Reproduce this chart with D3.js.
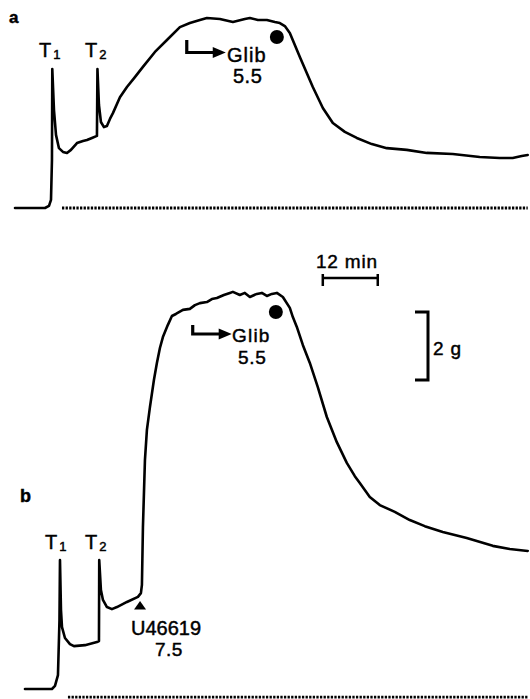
<!DOCTYPE html>
<html>
<head>
<meta charset="utf-8">
<script src="https://cdn.jsdelivr.net/npm/d3@7"></script>
<style>
  html, body { margin: 0; padding: 0; background: #fff; }
  svg { display: block; }
  text { font-family: "Liberation Sans", Arial, sans-serif; fill: #000; stroke: #000; stroke-width: 0.45px; }
</style>
</head>
<body>
<div id="chart"></div>
<script>
// time in minutes, tension in grams above resting baseline
const timeA = [0, 6.55, 7.42, 7.86, 8.07, 8.14, 8.51, 8.95, 9.60, 10.47, 11.35, 12.22, 13.53, 14.84, 15.71, 16.80, 17.89, 18.00, 18.33, 18.76, 19.42, 20.07, 20.73, 21.38, 22.91, 24.44, 26.18, 27.93, 30.55, 33.17, 36.00, 38.18, 40.37, 41.89, 44.73, 47.57, 50.18, 51.28, 53.02, 54.99, 56.73, 57.82, 58.91, 60.00, 62.19, 65.02, 67.21, 69.39, 72.01, 74.62, 77.90, 81.17, 85.53, 89.90, 95.57, 101.46, 105.83, 108.66, 110.63, 111.94];
const tensionA = [0, 0, 0.06, 0.24, 1.41, 4.09, 2.88, 2.15, 1.76, 1.65, 1.62, 1.71, 1.91, 1.97, 2.00, 2.06, 2.12, 4.09, 3.03, 2.53, 2.38, 2.41, 2.62, 2.79, 3.26, 3.56, 3.85, 4.15, 4.59, 4.94, 5.32, 5.44, 5.53, 5.59, 5.56, 5.47, 5.56, 5.59, 5.53, 5.53, 5.47, 5.44, 5.35, 5.15, 4.44, 3.56, 2.94, 2.50, 2.24, 2.06, 1.88, 1.76, 1.71, 1.62, 1.59, 1.50, 1.47, 1.47, 1.53, 1.56];

const timeB = [2.18, 8.07, 8.73, 9.38, 9.71, 9.82, 10.04, 10.26, 10.91, 12.00, 12.87, 15.27, 17.89, 18.33, 18.39, 18.76, 19.20, 20.07, 21.16, 22.26, 24.44, 26.84, 27.49, 27.71, 27.93, 28.37, 28.80, 29.46, 30.33, 30.98, 31.64, 32.29, 33.38, 34.26, 35.13, 36.66, 38.18, 39.28, 40.37, 41.89, 42.98, 44.08, 45.60, 46.91, 47.57, 49.09, 50.18, 51.28, 52.80, 53.89, 54.99, 56.08, 57.17, 58.48, 60.00, 60.66, 61.53, 62.84, 64.37, 66.11, 68.08, 70.26, 72.44, 74.19, 75.28, 77.46, 79.64, 82.91, 86.19, 89.46, 93.39, 98.62, 104.30, 108.01, 111.94];
const tensionB = [0, 0, 0.09, 0.41, 2.03, 3.79, 2.32, 1.82, 1.50, 1.32, 1.26, 1.29, 1.38, 1.41, 3.79, 2.91, 2.62, 2.41, 2.35, 2.41, 2.56, 2.71, 2.82, 3.06, 4.76, 6.74, 7.62, 8.29, 9.09, 9.59, 10.03, 10.35, 10.71, 10.97, 11.03, 11.15, 11.18, 11.29, 11.35, 11.38, 11.47, 11.50, 11.59, 11.65, 11.68, 11.59, 11.65, 11.53, 11.62, 11.65, 11.56, 11.62, 11.65, 11.53, 11.21, 10.94, 10.65, 10.12, 9.59, 8.88, 8.00, 7.26, 6.65, 6.26, 6.06, 5.65, 5.41, 5.21, 4.97, 4.79, 4.62, 4.44, 4.21, 4.12, 4.06];

// dotted reference lines [start, end] in minutes, level in g
const dottedA = [10.26, 111.94];
const dottedB = [11.56, 111.94];
const dottedLevelA = 0;
const dottedLevelB = -0.24;

// closing-point markers (min, g)
const markA = [57.17, 5.03];
const markB = [56.95, 11.09];

// events (min)
const glibTimeA = 37.5;
const glibTimeB = 38.8;
const uTime = 27.3;

// scale bars
const barTime = [67.2, 79.2];   // 12 min
const barTension = [9.09, 11.09]; // 2 g (panel b)

const W = 530, H = 699;
const svg = d3.select("#chart").append("svg")
    .attr("width", W)
    .attr("height", H);

const x = d3.scaleLinear().domain([0, 112]).range([15, 528]);
const yA = d3.scaleLinear().domain([0, 6]).range([208, 4]);
const yB = d3.scaleLinear().domain([0, 12]).range([689, 281]);

function drawPanel(times, vals, y, dotted, dottedLevel, mark) {
    const data = times.map((t, i) => ({ t, v: vals[i] }));
    const line = d3.line().x(d => x(d.t)).y(d => y(d.v));
    svg.append("path")
        .datum(data)
        .attr("d", line)
        .attr("fill", "none")
        .attr("stroke", "#000")
        .attr("stroke-width", 2.6)
        .attr("stroke-linejoin", "round")
        .attr("stroke-linecap", "round");

    svg.append("line")
        .attr("x1", x(dotted[0])).attr("x2", x(dotted[1]))
        .attr("y1", y(dottedLevel)).attr("y2", y(dottedLevel))
        .attr("stroke", "#000")
        .attr("stroke-width", 2.8)
        .attr("stroke-dasharray", "2.3,1.3");

    svg.append("circle")
        .attr("cx", x(mark[0]))
        .attr("cy", y(mark[1]))
        .attr("r", 7)
        .attr("fill", "#000");
}

drawPanel(timeA, tensionA, yA, dottedA, dottedLevelA, markA);
drawPanel(timeB, tensionB, yB, dottedB, dottedLevelB, markB);

// Glib arrows
function glibArrow(t, top, bottom) {
    const x0 = x(t);
    svg.append("path")
        .attr("d", `M${x0},${top}V${bottom}H${x0 + 28}`)
        .attr("fill", "none")
        .attr("stroke", "#000")
        .attr("stroke-width", 3.2);
    svg.append("path")
        .attr("d", `M${x0 + 26},${bottom - 5.5}L${x0 + 39},${bottom}L${x0 + 26},${bottom + 5.5}Z`)
        .attr("fill", "#000");
}
glibArrow(glibTimeA, 40, 52.5);
glibArrow(glibTimeB, 325, 334);

function label(txt, lx, ly, size, opts = {}) {
    const t = svg.append("text")
        .attr("x", lx).attr("y", ly)
        .style("font-size", size + "px")
        .text(txt);
    if (opts.bold) t.style("font-weight", "bold");
    if (opts.spacing) t.style("letter-spacing", opts.spacing + "px");
    if (opts.anchor) t.attr("text-anchor", opts.anchor);
    return t;
}

// panel letters
label("a", 9, 23, 17, { bold: true });
label("b", 20, 502, 18, { bold: true });

// T1 / T2
function tLabel(sub, lx, ly) {
    const t = svg.append("text").attr("x", lx).attr("y", ly).style("font-size", "20px");
    t.append("tspan").text("T");
    t.append("tspan").attr("dx", 2).attr("dy", 2).style("font-size", "13px").text(sub);
}
tLabel("1", 39, 57);
tLabel("2", 85, 57);
tLabel("1", 45, 549);
tLabel("2", 85, 549);

// Glib text
label("Glib", 227, 62, 20, { spacing: 1 });
label("5.5", 233, 83, 20, { spacing: 0.5 });
label("Glib", 232, 342, 19, { spacing: 1.2 });
label("5.5", 238, 364, 19, { spacing: 0.7 });

// U46619 marker
const ux = x(uTime);
svg.append("path")
    .attr("d", `M${ux - 6},609.5L${ux},601L${ux + 6},609.5Z`)
    .attr("fill", "#000");
label("U46619", 131, 635, 20);
label("7.5", 155, 656, 19, { spacing: 0.5 });

// 12 min scale bar
const bx0 = x(barTime[0]), bx1 = x(barTime[1]);
svg.append("path")
    .attr("d", `M${bx0},278H${bx1}M${bx0},274V286M${bx1},274V286`)
    .attr("fill", "none")
    .attr("stroke", "#000")
    .attr("stroke-width", 2.5);
label("12 min", 316, 268, 19, { spacing: 0.8 });

// 2 g scale bar (in panel b units)
const gy0 = yB(barTension[1]), gy1 = yB(barTension[0]);
svg.append("path")
    .attr("d", `M415,${gy0}H428V${gy1}H415`)
    .attr("fill", "none")
    .attr("stroke", "#000")
    .attr("stroke-width", 3);
label("2 g", 433, 355, 19, { spacing: 0.8 });
</script>
</body>
</html>
